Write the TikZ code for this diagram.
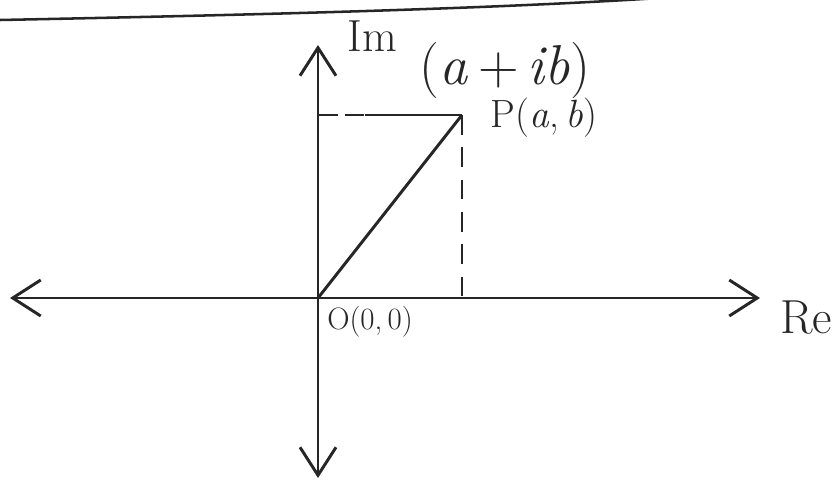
\documentclass[tikz,border=0pt]{standalone}
\usetikzlibrary{arrows.meta}
\begin{document}
\begin{tikzpicture}[x=0.025cm,y=-0.025cm,line width=2.1pt,color=black!85,
  axis/.style={-{Straight Barb[length=7mm,width=9mm,line width=2.1pt]}},
  lbl/.style={font=\fontsize{30}{36}\selectfont}]
\useasboundingbox (0,0) rectangle (836,484);
\draw[line width=1.8pt] (0,20) .. controls (300,14) and (500,8) .. (660,-2);
\coordinate (O) at (318,298);
\coordinate (P) at (462,115);
\coordinate (Q) at (462,298);
\coordinate (R) at (318,115);
\coordinate (S) at (365,115);
\draw[axis] (O) -- (760,298) coordinate (xr);
\draw[axis] (O) -- (10,298) coordinate (xl);
\draw[axis] (O) -- (318,45) coordinate (yt);
\draw[axis] (O) -- (318,478) coordinate (yb);
\draw (O) -- (P);
\draw (S) -- (P);
\draw[dash pattern=on 14pt off 5pt] (R) -- (S);
\draw[dash pattern=on 14pt off 9pt] (P) -- (Q);
\node[lbl,font=\fontsize{32}{38}\selectfont] (im) at (372,36) {Im};
\node[lbl,font=\fontsize{34}{40}\selectfont] (re) at (806,318) {Re};
\node[lbl,font=\fontsize{40}{46}\selectfont] (z) at (505,70) {(\textit{a}\,+\,\textit{ib})};
\node[lbl,font=\fontsize{28}{32}\selectfont] (pt) at (544,118) {P(\textit{a},\,\textit{b})};
\node[font=\fontsize{22}{26}\selectfont] (o) at (370,322) {O(0,\,0)};
\end{tikzpicture}
\end{document}
